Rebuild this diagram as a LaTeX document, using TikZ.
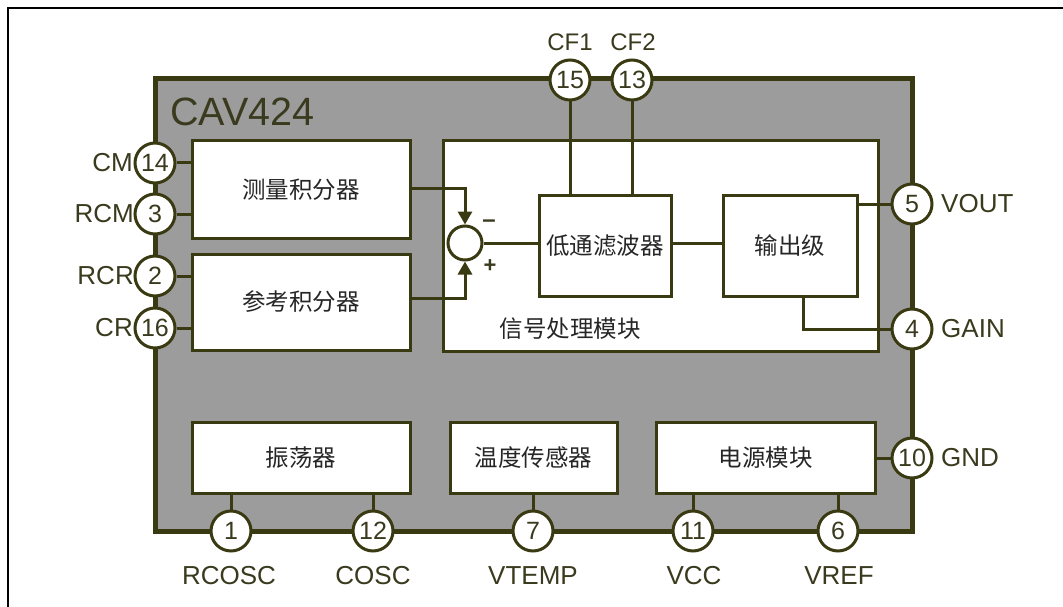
\documentclass[tikz,border=0pt]{standalone}
\usepackage{fontspec}
\setmainfont{Liberation Sans}
\newfontfamily\cjk{Noto Sans CJK SC}
\usetikzlibrary{arrows.meta}
\definecolor{olive}{HTML}{3A3A12}
\definecolor{chipgray}{HTML}{9C9C9C}
\definecolor{txt}{HTML}{3A3A1E}
\tikzset{
  x=1pt, y=-1pt,
  wire/.style={draw=olive, line width=3pt},
  blockbox/.style={draw=olive, line width=3pt, fill=white, rectangle, inner sep=0pt},
  pin/.style={circle, draw=olive, line width=3pt, fill=white, minimum size=40pt, inner sep=0pt, font=\fontsize{25}{25}\selectfont, text=txt},
  lbl/.style={font=\fontsize{26}{26}\selectfont, text=txt, inner sep=0pt},
  cn/.style={font=\cjk\fontsize{23.5}{23.5}\selectfont, text=black!85},
  arr/.style={wire, -{Triangle[length=13pt,width=14pt]}},
}
\begin{document}
\begin{tikzpicture}
\useasboundingbox (0,0) rectangle (1063,607);
\fill[white] (0,0) rectangle (1063,607);
\draw[black, line width=2.5pt] (8,607) -- (8,8) -- (1063,8);
% chip
\draw[draw=olive, fill=chipgray, line width=5pt] (155,79) rectangle (912,531);
\node[lbl, anchor=west, font=\fontsize{39.5}{40}\selectfont] (title) at (170,112) {CAV424};
% signal processing block
\draw[blockbox] (443,141) rectangle (878,351);
\node[cn, anchor=west] (sp) at (496,329) {信号处理模块};
% boxes
\node[blockbox, minimum width=218pt, minimum height=97pt] (meas) at (301,189.5) {};
\node[cn] at (meas.center) {测量积分器};
\node[blockbox, minimum width=218pt, minimum height=96pt] (ref) at (301,302) {};
\node[cn] at (ref.center) {参考积分器};
\node[blockbox, minimum width=132pt, minimum height=101pt] (lpf) at (605,245.5) {};
\node[cn] at (lpf.center) {低通滤波器};
\node[blockbox, minimum width=134pt, minimum height=101pt] (out) at (790,245.5) {};
\node[cn] at (out.center) {输出级};
\node[blockbox, minimum width=218pt, minimum height=71pt] (osc) at (301,457.5) {};
\node[cn] at (osc.center) {振荡器};
\node[blockbox, minimum width=167pt, minimum height=71pt] (temp) at (533.5,457.5) {};
\node[cn] at (temp.center) {温度传感器};
\node[blockbox, minimum width=219pt, minimum height=71pt] (pwr) at (765.5,457.5) {};
\node[cn] at (pwr.center) {电源模块};
% summing junction
\node[circle, draw=olive, line width=3pt, fill=white, minimum size=34pt, inner sep=0pt] (sum) at (465,243) {};
\node[lbl, font=\fontsize{24}{24}\selectfont\bfseries] (minus) at (489,224) {–};
\node[lbl, font=\fontsize{22}{22}\selectfont\bfseries] (plus) at (490,266) {+};
\draw[arr] (meas.east |- 0,188) -- (465,188) -- (sum.north);
\draw[arr] (ref.east |- 0,298) -- (465,298) -- (sum.south);
\draw[wire] (sum.east) -- (lpf.west |- sum);
\draw[wire] (lpf.east |- sum) -- (out.west |- sum);
% pins
\node[pin] (p14) at (155,163) {14};
\node[pin] (p3) at (155,214) {3};
\node[pin] (p2) at (155,276) {2};
\node[pin] (p16) at (155,328) {16};
\node[pin] (p15) at (570,80) {15};
\node[pin] (p13) at (632,80) {13};
\node[pin] (p5) at (912,204) {5};
\node[pin] (p4) at (912,329) {4};
\node[pin] (p10) at (912,458) {10};
\node[pin] (p1) at (231,531) {1};
\node[pin] (p12) at (373,531) {12};
\node[pin] (p7) at (533,531) {7};
\node[pin] (p11) at (693,531) {11};
\node[pin] (p6) at (838,531) {6};
% pin wires
\draw[wire] (p14.east) -- (meas.west |- p14);
\draw[wire] (p3.east) -- (meas.west |- p3);
\draw[wire] (p2.east) -- (ref.west |- p2);
\draw[wire] (p16.east) -- (ref.west |- p16);
\draw[wire] (p15.south) -- (lpf.north -| p15);
\draw[wire] (p13.south) -- (lpf.north -| p13);
\draw[wire] (out.east |- p5) -- (p5.west);
\draw[wire] (out.south -| 803,0) -- (803,329) -- (p4.west);
\draw[wire] (pwr.east |- p10) -- (p10.west);
\draw[wire] (osc.south -| p1) -- (p1.north);
\draw[wire] (osc.south -| p12) -- (p12.north);
\draw[wire] (temp.south -| p7) -- (p7.north);
\draw[wire] (pwr.south -| p11) -- (p11.north);
\draw[wire] (pwr.south -| p6) -- (p6.north);
% labels
\node[lbl, anchor=east] (lcm) at (133,163) {CM};
\node[lbl, anchor=east] (lrcm) at (134,214) {RCM};
\node[lbl, anchor=east] (lrcr) at (134,276) {RCR};
\node[lbl, anchor=east] (lcr) at (133,328) {CR};
\node[lbl, font=\fontsize{24}{24}\selectfont] (lcf1) at (570,42) {CF1};
\node[lbl, font=\fontsize{24}{24}\selectfont] (lcf2) at (633,42) {CF2};
\node[lbl, anchor=west] (lvout) at (941,204) {VOUT};
\node[lbl, anchor=west] (lgain) at (941,329) {GAIN};
\node[lbl, anchor=west] (lgnd) at (941,458) {GND};
\node[lbl] (lrcosc) at (229,576) {RCOSC};
\node[lbl] (lcosc) at (373,576) {COSC};
\node[lbl] (lvtemp) at (533,576) {VTEMP};
\node[lbl] (lvcc) at (694,576) {VCC};
\node[lbl] (lvref) at (839,576) {VREF};
\end{tikzpicture}
\end{document}
